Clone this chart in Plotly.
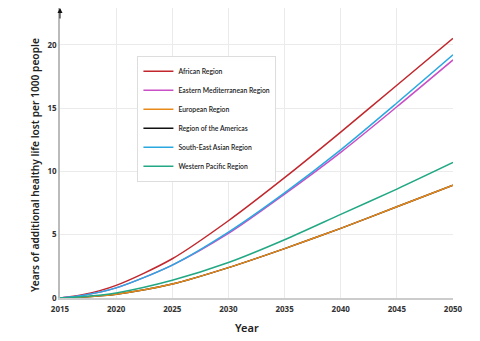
import plotly.graph_objects as go

years = [2015, 2017, 2020, 2025, 2030, 2035, 2040, 2045, 2050]
african = [0, 0.25, 1.0, 3.1, 6.1, 9.5, 13.1, 16.8, 20.5]
eastern_med = [0, 0.2, 0.8, 2.6, 5.1, 8.2, 11.5, 15.1, 18.8]
european = [0, 0.08, 0.3, 1.1, 2.4, 3.9, 5.5, 7.2, 8.9]
americas = [0, 0.08, 0.3, 1.1, 2.4, 3.9, 5.5, 7.2, 8.9]
se_asian = [0, 0.2, 0.8, 2.6, 5.2, 8.3, 11.7, 15.4, 19.2]
western_pac = [0, 0.1, 0.4, 1.4, 2.8, 4.6, 6.6, 8.6, 10.7]

series = [
    ("African Region", african, "#c1272d"),
    ("Eastern Mediterranean Region", eastern_med, "#c84fc6"),
    ("Region of the Americas", americas, "#111111"),
    ("European Region", european, "#e8891a"),
    ("South-East Asian Region", se_asian, "#2aa8e0"),
    ("Western Pacific Region", western_pac, "#22a884"),
]
legend_rank = {"African Region": 1, "Eastern Mediterranean Region": 2, "European Region": 3,
               "Region of the Americas": 4, "South-East Asian Region": 5, "Western Pacific Region": 6}

fig = go.Figure()
for name, vals, col in series:
    fig.add_trace(go.Scatter(x=years, y=vals, name=name, mode="lines",
                             line=dict(color=col, width=1.5, shape="spline", smoothing=0.8),
                             legendrank=legend_rank[name]))

font_family = "Noto Sans, Open Sans, sans-serif"
fig.update_layout(
    width=480, height=341,
    margin=dict(l=60, r=27, t=8, b=43),
    plot_bgcolor="white", paper_bgcolor="white",
    font=dict(family=font_family, color="#333"),
    showlegend=True,
    legend=dict(x=0.197, y=0.835, xanchor="left", yanchor="top",
                bgcolor="white", bordercolor="#dddddd", borderwidth=1,
                font=dict(size=6.8, color="#222", family="Lato, sans-serif", weight=600),
                itemwidth=30, tracegroupgap=0),
    xaxis=dict(range=[2015, 2050], tickvals=[2015, 2020, 2025, 2030, 2035, 2040, 2045, 2050],
               showgrid=True, gridcolor="#ebebeb", gridwidth=1,
               showline=True, linecolor="#cccccc", linewidth=2, zeroline=False,
               ticklabelstandoff=2,
               tickfont=dict(size=8, color="#333", family=font_family, weight="bold")),
    yaxis=dict(range=[0, 22.9], tickvals=[0, 5, 10, 15, 20],
               showgrid=True, gridcolor="#ebebeb", gridwidth=1,
               showline=True, linecolor="#bbbbbb", linewidth=1.5, zeroline=False,
               tickfont=dict(size=8, color="#333", family=font_family, weight="bold")),
)
fig.add_annotation(x=-0.0636, y=0.459, xref="paper", yref="paper", showarrow=False,
                   xanchor="center", yanchor="middle",
                   text="Years of additional healthy life lost per 1000 people", textangle=-90,
                   font=dict(size=10.2, color="#222", family=font_family, weight=600))
fig.add_annotation(x=0.476, y=-0.1, xref="paper", yref="paper", showarrow=False,
                   xanchor="center", yanchor="middle",
                   text="Year", font=dict(size=11, color="#222", family=font_family, weight=600))
fig.add_annotation(x=0, y=1.0, xref="paper", yref="paper", ax=0, ay=12, showarrow=True,
                   arrowhead=2, arrowsize=1, arrowwidth=1, arrowcolor="#111", text="")
fig.write_html("out.html")
